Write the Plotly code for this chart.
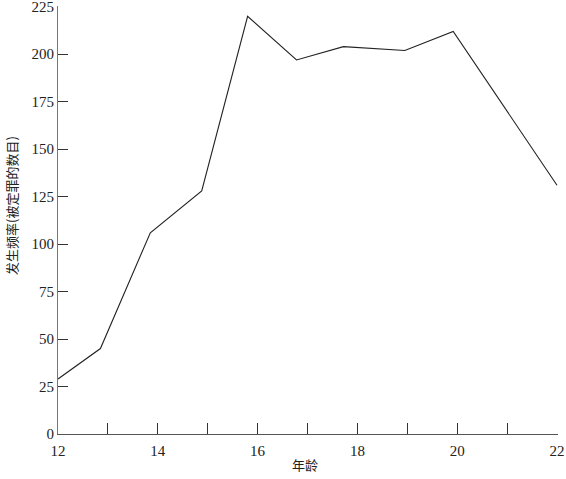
import plotly.graph_objects as go

ages = [12.0, 12.85, 13.85, 14.88, 15.8, 16.78, 17.72, 18.95, 19.92, 22.0]
frequency = [29, 45, 106, 128, 220, 197, 204, 202, 212, 131]
y_ticks = [0, 25, 50, 75, 100, 125, 150, 175, 200, 225]
x_ticks = [12, 13, 14, 15, 16, 17, 18, 19, 20, 21, 22]
x_labels = ["12", "", "14", "", "16", "", "18", "", "20", "", "22"]

fig = go.Figure()
fig.add_trace(go.Scatter(x=ages, y=frequency, mode="lines",
                         line=dict(color="#222222", width=1.1), showlegend=False))

font = dict(family="Liberation Serif, Times New Roman, serif", size=15, color="#222222")
fig.update_layout(
    width=566, height=479,
    margin=dict(l=58, r=8, t=6, b=45, autoexpand=False),
    paper_bgcolor="white", plot_bgcolor="white",
    font=font,
    xaxis=dict(range=[12, 22.02], tickvals=x_ticks, ticktext=x_labels,
               ticks="inside", ticklen=11, tickwidth=1, tickcolor="#333333",
               showline=True, linecolor="#555555", linewidth=1,
               showgrid=False, zeroline=False, tickfont=font, automargin=False,
               ticklabeloverflow="allow", ticklabelstandoff=3),
    yaxis=dict(range=[0, 225.4], tickvals=y_ticks,
               ticks="inside", ticklen=10, tickwidth=1, tickcolor="#333333",
               showline=True, linecolor="#777777", linewidth=1,
               showgrid=False, zeroline=False, tickfont=font, automargin=False,
               ticklabeloverflow="allow"),
    annotations=[
        dict(text="年龄", xref="paper", yref="paper", x=0.494, y=-0.072,
             xanchor="center", yanchor="middle", showarrow=False,
             font=dict(family="Noto Sans CJK SC", size=13, color="#222222")),
        dict(text="发生频率(被定罪的数目)", xref="paper", yref="paper",
             x=-0.092, y=0.533, textangle=-90, xanchor="center", yanchor="middle",
             showarrow=False,
             font=dict(family="Noto Sans CJK SC", size=13, color="#222222")),
    ],
)
fig.write_html("out.html", config={"displayModeBar": False},
               post_script="document.body.style.margin='0';")
